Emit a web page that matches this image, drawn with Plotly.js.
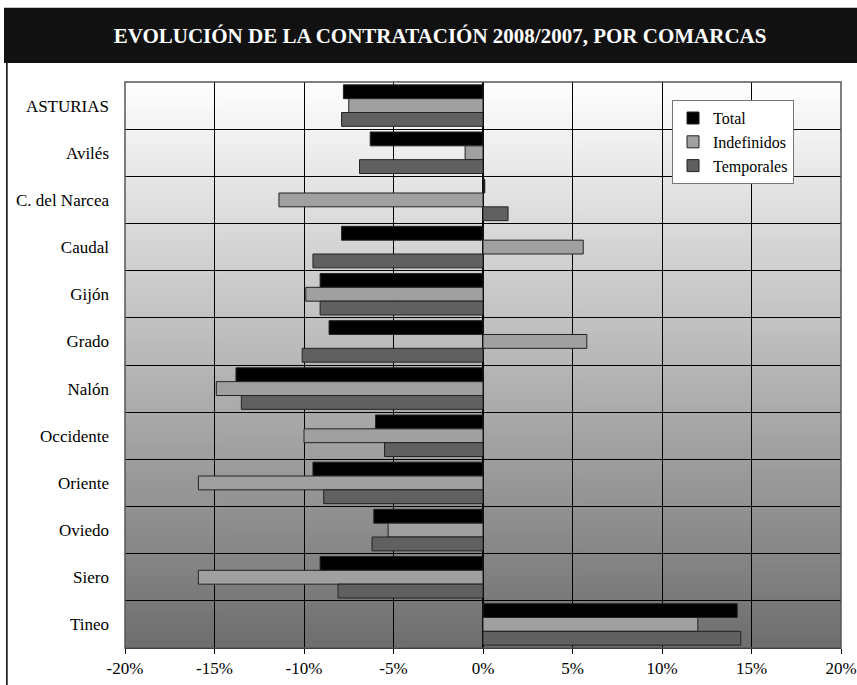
<!DOCTYPE html>
<html>
<head>
<meta charset="utf-8">
<script src="https://cdn.plot.ly/plotly-3.0.1.min.js"></script>
<style>html,body{margin:0;padding:0;background:#fff;}#chart{width:857px;height:685px;}</style>
</head>
<body>
<div id="chart"></div>
<script>
const categories = ["ASTURIAS","Avilés","C. del Narcea","Caudal","Gijón","Grado","Nalón","Occidente","Oriente","Oviedo","Siero","Tineo"];
const total       = [-7.8, -6.3,   0.1, -7.9, -9.1, -8.6, -13.8, -6.0, -9.5, -6.1, -9.1, 14.2];
const indefinidos = [-7.5, -1.0, -11.4,  5.6, -9.9,  5.8, -14.9,-10.0,-15.9, -5.3,-15.9, 12.0];
const temporales  = [-7.9, -6.9,   1.4, -9.5, -9.1,-10.1, -13.5, -5.5, -8.9, -6.2, -8.1, 14.4];
const xTicks = [-20,-15,-10,-5,0,5,10,15,20];
const xTickLabels = ["-20%","-15%","-10%","-5%","0%","5%","10%","15%","20%"];

const FONT = '"Liberation Serif", "DejaVu Serif", serif';

// gradient background image
const cv = document.createElement('canvas');
cv.width = 4; cv.height = 256;
const ctx = cv.getContext('2d');
const g = ctx.createLinearGradient(0,0,0,256);
g.addColorStop(0,'#ffffff');
g.addColorStop(1,'#6e6e6e');
ctx.fillStyle = g; ctx.fillRect(0,0,4,256);
const bgUrl = cv.toDataURL('image/png');

function tr(name, vals, color){
  return {type:'bar', orientation:'h', name:name, y:categories, x:vals,
    marker:{color:color, line:{color:'#222222', width:1}}, hoverinfo:'x+y'};
}

const data = [
  tr('Total', total, '#000000'),
  tr('Indefinidos', indefinidos, '#a0a0a0'),
  tr('Temporales', temporales, '#606060')
];

const layout = {
  width:857, height:685,
  margin:{l:125, r:16, t:82, b:37},
  paper_bgcolor:'#ffffff',
  plot_bgcolor:'rgba(0,0,0,0)',
  barmode:'group', bargap:0.12, bargroupgap:0,
  font:{family:FONT, color:'#000', size:16},
  title:{text:'<b>EVOLUCIÓN DE LA CONTRATACIÓN 2008/2007, POR COMARCAS</b>',
    font:{family:FONT, size:21, color:'#ffffff'},
    xref:'paper', x:0.44, xanchor:'center', yref:'container', y:1-36/685, yanchor:'middle'},
  xaxis:{range:[-20,20], tickvals:xTicks, ticktext:xTickLabels, showgrid:true, gridcolor:'#000000', gridwidth:1,
    zeroline:true, zerolinecolor:'#000000', zerolinewidth:1.5,
    showline:true, linecolor:'#000000', linewidth:1, ticks:'outside', ticklen:5, tickcolor:'#000',
    tickfont:{family:FONT, size:17}, fixedrange:true},
  yaxis:{autorange:'reversed', type:'category', tickson:'boundaries', showgrid:true, gridcolor:'#000000', gridwidth:1,
    ticks:'', ticklabelstandoff:15, tickfont:{family:FONT, size:17}, showline:false, fixedrange:true},
  legend:{x:0.764, y:0.968, xanchor:'left', yanchor:'top', bgcolor:'#ffffff', bordercolor:'#777777', borderwidth:1,
    font:{family:FONT, size:16}, tracegroupgap:0},
  images:[{source:bgUrl, xref:'paper', yref:'paper', x:0, y:1, sizex:1, sizey:1, sizing:'stretch', layer:'below', xanchor:'left', yanchor:'top'}],
  shapes:[
    {type:'rect', xref:'paper', yref:'paper', x0:-0.169, x1:1.03, y0:1.0336, y1:1.131, fillcolor:'#111111', line:{width:0}, layer:'above'},
    {type:'line', xref:'paper', yref:'paper', x0:-0.165, x1:-0.165, y0:1.0336, y1:-0.1, line:{color:'#000', width:1.5}},
    {type:'rect', xref:'paper', yref:'paper', x0:0, x1:1, y0:0, y1:1, line:{color:'#555555', width:1.5}, layer:'above'}
  ],
  showlegend:true
};

Plotly.newPlot('chart', data, layout, {displayModeBar:false, staticPlot:true});
</script>
</body>
</html>
